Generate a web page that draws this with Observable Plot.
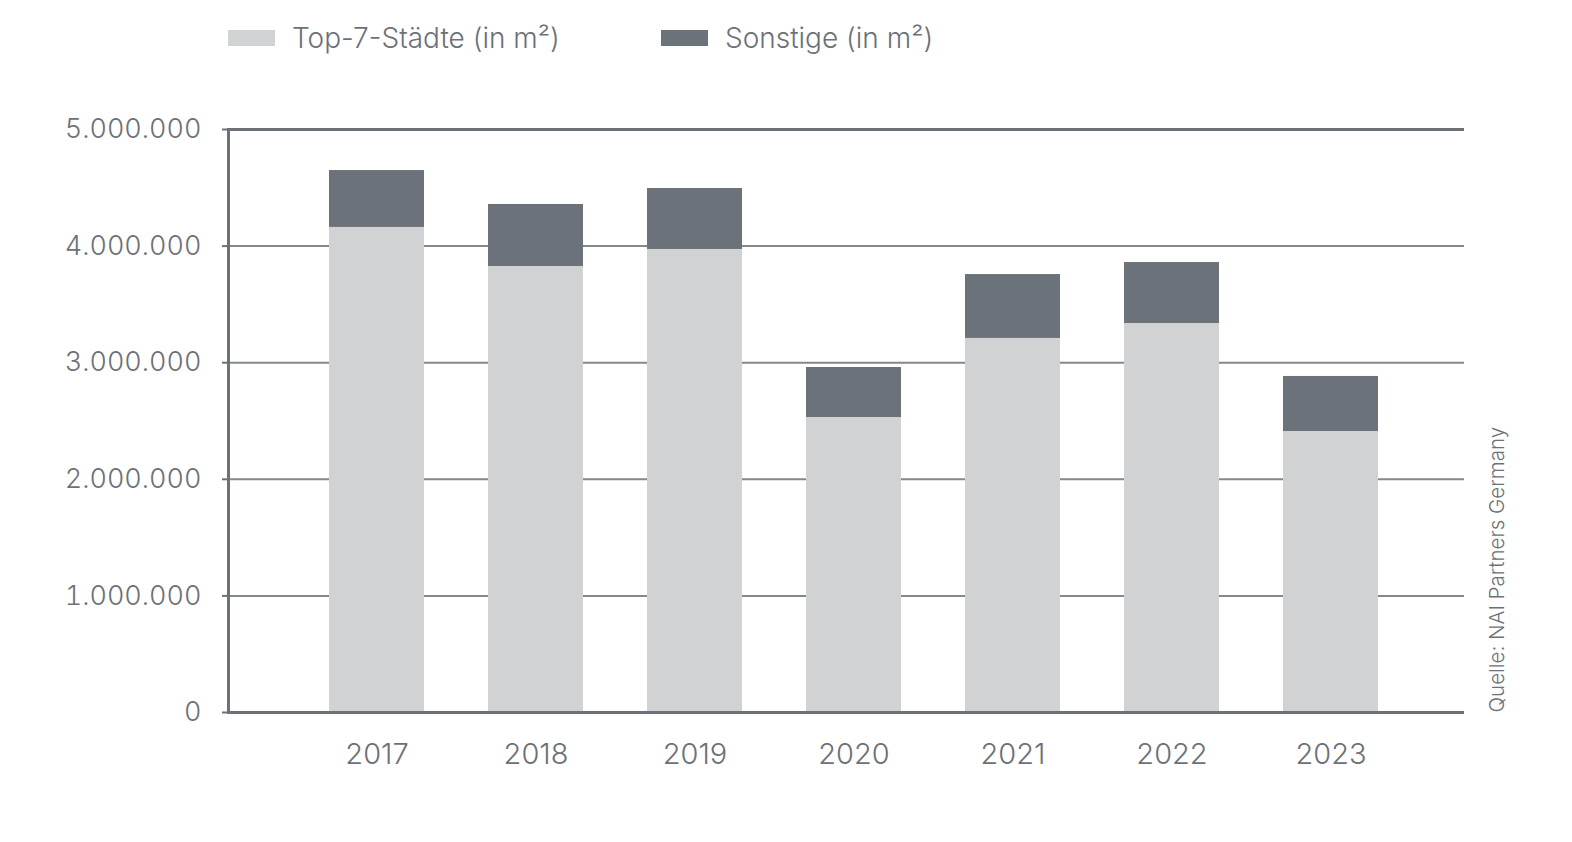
<!DOCTYPE html>
<html>
<head>
<meta charset="utf-8">
<script src="https://cdn.jsdelivr.net/npm/d3@7"></script>
<script src="https://cdn.jsdelivr.net/npm/@observablehq/plot@0.6"></script>
<style>
  html, body { margin: 0; padding: 0; background: #fff; overflow: hidden; }
  body { width: 1572px; height: 842px; position: relative; font-family: Inter, Roboto, "Liberation Sans", sans-serif; font-weight: 300; }
  .item { position: absolute; top: 20px; height: 36px; display: flex; align-items: center; color: #6c7177; font-size: 28px; z-index: 2; white-space: nowrap; }
  .sw { width: 47px; height: 16px; display: inline-block; margin-right: 17px; }
  #chart { position: absolute; left: 0; top: 0; }
</style>
</head>
<body>
<div id="legend"></div>
<div id="chart"></div>
<script>
const years = ["2017", "2018", "2019", "2020", "2021", "2022", "2023"];
const top7 = [4160000, 3825000, 3971000, 2530000, 3208000, 3336000, 2410000];
const sonstige = [488000, 532000, 523000, 429000, 548000, 523000, 472000];
const seriesNames = ["Top-7-Städte (in m²)", "Sonstige (in m²)"];
const seriesColors = ["#d1d2d4", "#6c7279"];
const yTicks = [0, 1000000, 2000000, 3000000, 4000000, 5000000];
const source = "Quelle: NAI Partners Germany";

const data = [];
years.forEach((y, i) => data.push({year: y, series: seriesNames[0], value: top7[i]}));
years.forEach((y, i) => data.push({year: y, series: seriesNames[1], value: sonstige[i]}));

const fmt = d3.formatLocale({decimal: ",", thousands: ".", grouping: [3], currency: ["", "€"]}).format(",d");
const textColor = "#6c7177";
const lineColor = "#6c7177";
const fontFam = "Inter, Roboto, 'Liberation Sans', sans-serif";

// legend
const leg = document.getElementById("legend");
const legLeft = [228, 661];
seriesNames.forEach((s, i) => {
  const it = document.createElement("div");
  it.className = "item";
  it.style.left = legLeft[i] + "px";
  const sw = document.createElement("span");
  sw.className = "sw";
  sw.style.background = seriesColors[i];
  const t = document.createElement("span");
  t.textContent = s;
  it.appendChild(sw); it.appendChild(t);
  leg.appendChild(it);
});

const chart = Plot.plot({
  width: 1572,
  height: 842,
  marginTop: 129,
  marginBottom: 130,
  marginLeft: 228,
  marginRight: 108,
  style: {fontFamily: fontFam, fontWeight: 300, color: textColor, background: "#fff"},
  x: {type: "band", domain: years, range: [295.6, 1411], paddingInner: 0.402, paddingOuter: 0.201, label: null},
  y: {domain: [0, 5000000], label: null},
  color: {domain: seriesNames, range: seriesColors},
  marks: [
    Plot.ruleY(yTicks.slice(1, -1), {stroke: "#84888c", strokeWidth: 2}),
    Plot.barY(data, {x: "year", y: "value", fill: "series"}),
    Plot.ruleY([yTicks[0], yTicks[yTicks.length - 1]], {stroke: lineColor, strokeWidth: 3}),
    Plot.frame({anchor: "left", stroke: lineColor, strokeWidth: 3}),
    Plot.axisY({ticks: yTicks, tickFormat: fmt, tickSize: 6, tickPadding: 21, fontSize: 27, stroke: lineColor, strokeWidth: 2, label: null, color: textColor}),
    Plot.axisX({tickSize: 0, tickPadding: 31, fontSize: 29, label: null, color: textColor}),
    Plot.text([source], {frameAnchor: "bottom-right", rotate: -90, textAnchor: "start", dx: 39, fontSize: 20.5, fill: textColor})
  ]
});
document.getElementById("chart").appendChild(chart);
</script>
</body>
</html>
